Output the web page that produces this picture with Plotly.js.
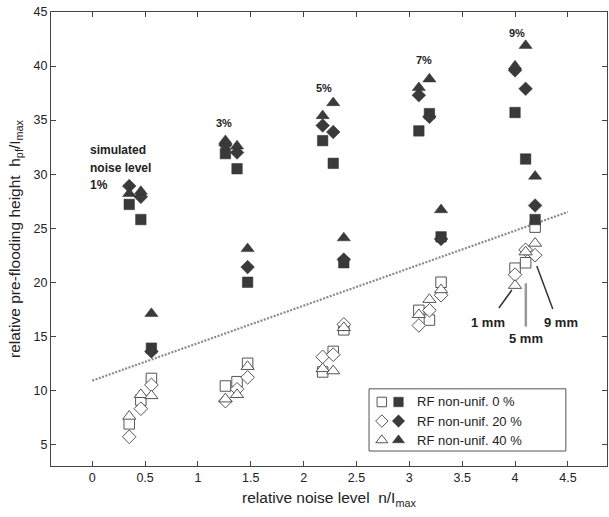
<!DOCTYPE html>
<html>
<head>
<meta charset="utf-8">
<script src="https://cdn.plot.ly/plotly-3.0.1.min.js"></script>
<style>html,body{margin:0;padding:0;background:#fff}#chart{width:609px;height:517px}</style>
</head>
<body>
<div id="chart"></div>
<script>
// relative noise level n/Imax for each simulated noise level (1,3,5,7,9 %) and resolution (1, 5, 9 mm)
const noiseLabels = ['1%', '3%', '5%', '7%', '9%'];
const resolutionLabels = ['1 mm', '5 mm', '9 mm'];
const xPos = [0.35, 0.46, 0.56, 1.26, 1.37, 1.47, 2.18, 2.28, 2.38, 3.09, 3.19, 3.30, 4.00, 4.10, 4.19];

// filled symbols
const filledRF0  = [27.2, 25.8, 13.9, 31.9, 30.5, 20.0, 33.1, 31.0, 21.8, 34.0, 35.6, 24.2, 35.7, 31.4, 25.8];
const filledRF20 = [28.9, 27.9, 13.6, 32.7, 32.0, 21.4, 34.5, 33.9, 22.1, 37.3, 35.3, 24.0, 39.6, 37.9, 27.1];
const filledRF40 = [28.2, 28.4, 17.1, 33.1, 32.6, 23.1, 35.4, 36.6, 24.1, 38.0, 38.8, 26.7, 40.0, 41.9, 29.8];
// open symbols
const openRF0  = [6.9, 9.1, 11.1, 10.4, 10.8, 12.5, 11.7, 13.6, 15.6, 17.4, 16.5, 20.0, 21.3, 21.8, 25.1];
const openRF20 = [5.7, 8.3, 10.5, 9.0, 10.1, 11.2, 13.1, 13.3, 16.1, 16.0, 17.4, 18.8, 20.7, 23.0, 22.5];
const openRF40 = [7.6, 9.6, 9.5, 9.2, 9.6, 12.2, 12.0, 11.8, 15.8, 17.0, 18.4, 19.3, 19.7, 22.8, 23.6];

// dotted reference line
const fitX = [0, 4.5];
const fitY = [10.9, 26.5];

const seriesNames = ['RF non-unif. 0 %', 'RF non-unif. 20 %', 'RF non-unif. 40 %'];

const FONT = 'Liberation Sans, Arial, Helvetica, sans-serif';
const DARK = '#3a3a3a';
const symbols = ['square', 'diamond', 'triangle-up'];
const sizes = [10.5, 10.5, 11.5];

const traces = [];
traces.push({x: fitX, y: fitY, mode: 'lines', line: {dash: '2px,1.5px', width: 2.2, color: '#8a8a8a'}, hoverinfo: 'skip', showlegend: false});

[openRF0, openRF20, openRF40].forEach((ys, i) => {
  traces.push({x: xPos, y: ys, mode: 'markers', name: seriesNames[i] + ' (open)', showlegend: false,
    marker: {symbol: symbols[i], size: sizes[i], color: 'white', line: {color: '#555', width: 1}}});
});
[filledRF0, filledRF20, filledRF40].forEach((ys, i) => {
  traces.push({x: xPos, y: ys, mode: 'markers', name: seriesNames[i], showlegend: false,
    marker: {symbol: symbols[i], size: sizes[i], color: DARK, line: {color: '#2e2e2e', width: 0.5}}});
});

// custom legend (two symbols per row) drawn on an overlaid unit axis pair
const legRowY = [0.141, 0.099, 0.057];
symbols.forEach((s, i) => {
  traces.push({x: [0.595], y: [legRowY[i]], xaxis: 'x2', yaxis: 'y2', mode: 'markers', showlegend: false, hoverinfo: 'skip',
    marker: {symbol: s, size: sizes[i] - 1, color: 'white', line: {color: '#555', width: 1}}});
  traces.push({x: [0.625], y: [legRowY[i]], xaxis: 'x2', yaxis: 'y2', mode: 'markers', showlegend: false, hoverinfo: 'skip',
    marker: {symbol: s, size: sizes[i] - 1, color: DARK, line: {color: '#2e2e2e', width: 0.5}}});
});

const annotations = [];
seriesNames.forEach((t, i) => {
  annotations.push({xref: 'paper', yref: 'paper', x: 0.655, y: legRowY[i], xanchor: 'left', yanchor: 'middle',
    text: t, showarrow: false, font: {family: FONT, size: 13, color: '#222'}});
});
// noise level labels
const simLines = ['simulated', 'noise level'];
annotations.push({x: -0.04, y: 32.25, xanchor: 'left', yanchor: 'middle', text: '<b>' + simLines[0] + '</b>', showarrow: false, font: {family: FONT, size: 12, color: '#222'}});
annotations.push({x: -0.04, y: 30.6, xanchor: 'left', yanchor: 'middle', text: '<b>' + simLines[1] + '</b>', showarrow: false, font: {family: FONT, size: 12, color: '#222'}});
annotations.push({x: -0.04, y: 28.95, xanchor: 'left', yanchor: 'middle', text: '<b>' + noiseLabels[0] + '</b>', showarrow: false, font: {family: FONT, size: 12, color: '#222'}});
const pctPos = [[1.25, 34.75], [2.195, 37.95], [3.14, 40.6], [4.02, 43.05]];
pctPos.forEach((p, i) => {
  annotations.push({x: p[0], y: p[1], text: '<b>' + noiseLabels[i + 1] + '</b>', showarrow: false, font: {family: FONT, size: 11, color: '#222'}});
});
// resolution labels
const resPos = [[3.74, 16.3], [4.10, 14.8], [4.435, 16.3]];
resPos.forEach((p, i) => {
  annotations.push({x: p[0], y: p[1], text: '<b>' + resolutionLabels[i] + '</b>', showarrow: false, font: {family: FONT, size: 13, color: '#222'}});
});

const shapes = [
  {type: 'rect', xref: 'paper', yref: 'paper', x0: 0.572, x1: 0.926, y0: 0.033, y1: 0.170, line: {color: '#555', width: 1}, fillcolor: 'rgba(0,0,0,0)'},
  {type: 'line', x0: 3.847, y0: 17.62, x1: 3.970, y1: 19.28, line: {color: '#333', width: 1.5}},
  {type: 'line', x0: 4.102, y0: 15.9, x1: 4.102, y1: 19.9, line: {color: '#999', width: 2.5}},
  {type: 'line', x0: 4.206, y0: 21.5, x1: 4.357, y1: 17.53, line: {color: '#333', width: 1.5}}
];

const axisCommon = {
  showline: true, linecolor: '#444', linewidth: 1, mirror: 'allticks',
  ticks: 'inside', ticklen: 5, tickcolor: '#444', tickwidth: 1,
  showgrid: false, zeroline: false,
  tickfont: {family: FONT, size: 12.5, color: '#222'}
};

const layout = {
  width: 609, height: 517,
  margin: {l: 51, r: 2, t: 12, b: 51},
  paper_bgcolor: 'white', plot_bgcolor: 'white',
  showlegend: false,
  font: {family: FONT, color: '#222'},
  xaxis: Object.assign({}, axisCommon, {
    range: [-0.39, 4.87], tickmode: 'linear', tick0: 0, dtick: 0.5,
    title: {text: 'relative noise level  n/I<sub>max</sub>', font: {family: FONT, size: 15.5, color: '#222'}, standoff: 8}
  }),
  yaxis: Object.assign({}, axisCommon, {
    range: [3, 45], tickmode: 'linear', tick0: 0, dtick: 5,
    title: {text: 'relative pre-flooding height  h<sub>pf</sub>/I<sub>max</sub>', font: {family: FONT, size: 15.5, color: '#222'}, standoff: 9}
  }),
  xaxis2: {overlaying: 'x', range: [0, 1], visible: false, fixedrange: true},
  yaxis2: {overlaying: 'y', range: [0, 1], visible: false, fixedrange: true},
  annotations: annotations,
  shapes: shapes
};

Plotly.newPlot('chart', traces, layout, {staticPlot: true, displayModeBar: false});
</script>
</body>
</html>
